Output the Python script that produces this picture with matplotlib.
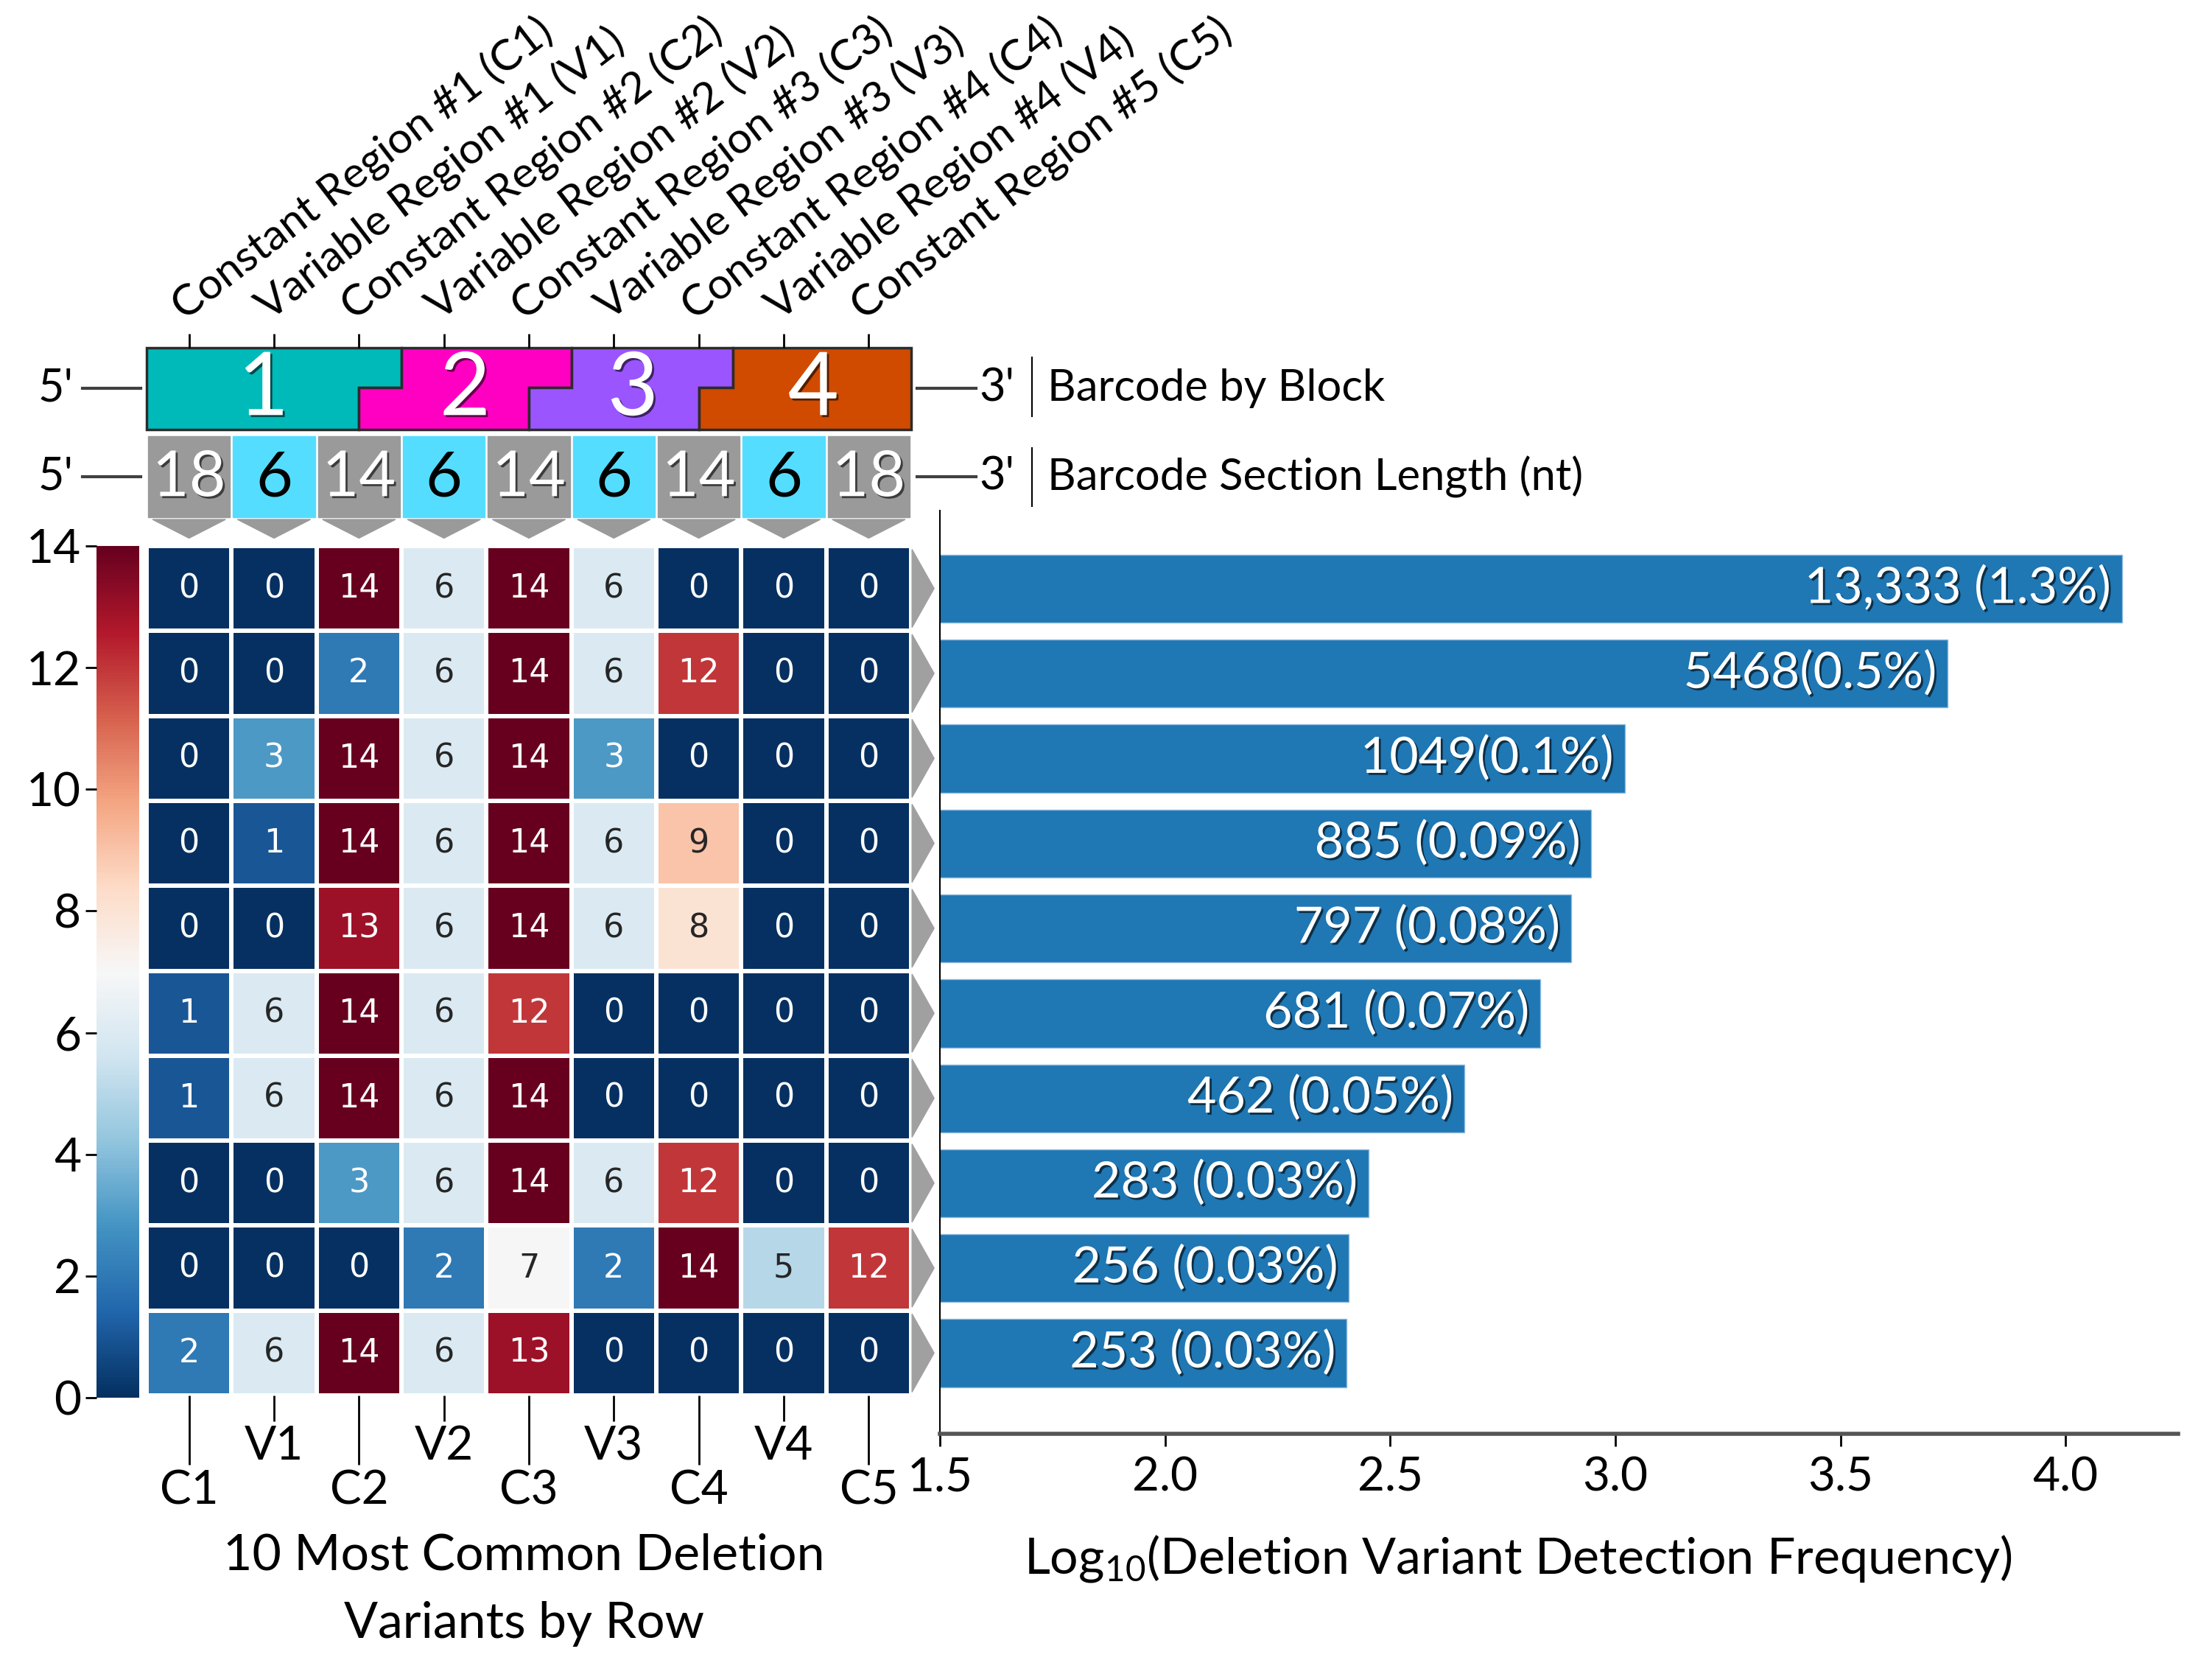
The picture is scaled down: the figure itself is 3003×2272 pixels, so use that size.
import numpy as np
import pandas as pd
import matplotlib
matplotlib.use('Agg')
import matplotlib.pyplot as plt
import matplotlib.patheffects as pe
from matplotlib.patches import Polygon, Rectangle
import seaborn as sns

# data
regions = ['C1', 'V1', 'C2', 'V2', 'C3', 'V3', 'C4', 'V4', 'C5']
region_names = ['Constant Region #1 (C1)', 'Variable Region #1 (V1)', 'Constant Region #2 (C2)',
                'Variable Region #2 (V2)', 'Constant Region #3 (C3)', 'Variable Region #3 (V3)',
                'Constant Region #4 (C4)', 'Variable Region #4 (V4)', 'Constant Region #5 (C5)']
section_len = [18, 6, 14, 6, 14, 6, 14, 6, 18]

# deleted nt per region, one row per deletion variant (most common first)
deletions = [
    [0, 0, 14, 6, 14, 6, 0, 0, 0],
    [0, 0, 2, 6, 14, 6, 12, 0, 0],
    [0, 3, 14, 6, 14, 3, 0, 0, 0],
    [0, 1, 14, 6, 14, 6, 9, 0, 0],
    [0, 0, 13, 6, 14, 6, 8, 0, 0],
    [1, 6, 14, 6, 12, 0, 0, 0, 0],
    [1, 6, 14, 6, 14, 0, 0, 0, 0],
    [0, 0, 3, 6, 14, 6, 12, 0, 0],
    [0, 0, 0, 2, 7, 2, 14, 5, 12],
    [2, 6, 14, 6, 13, 0, 0, 0, 0],
]
counts = [13333, 5468, 1049, 885, 797, 681, 462, 283, 256, 253]
count_labels = ['13,333 (1.3%)', '5468(0.5%)', '1049(0.1%)', '885 (0.09%)', '797 (0.08%)',
                '681 (0.07%)', '462 (0.05%)', '283 (0.03%)', '256 (0.03%)', '253 (0.03%)']

# barcode blocks: edges (in region units) of upper and lower half of each block
blocks = ['1', '2', '3', '4']
block_top_edges = [0, 3, 5, 6.9, 9]
block_bot_edges = [0, 2.5, 4.5, 6.5, 9]
block_colors = ['#00baba', '#ff00c3', '#9b55ff', '#d04a00']

plt.rcParams['font.family'] = ['Lato', 'DejaVu Sans']
plt.rcParams['mathtext.default'] = 'regular'

W, H = 3003, 2272
fig = plt.figure(figsize=(W / 100, H / 100), dpi=100)


def px_axes(x0, y0, x1, y1):
    return fig.add_axes([x0 / W, 1 - y1 / H, (x1 - x0) / W, (y1 - y0) / H])


ax_hm = px_axes(199, 741, 1237, 1894)
ax_cb = px_axes(131, 741, 189, 1897)
ax_bar = px_axes(1276, 693, 2957, 1946)
ax_top = px_axes(199, 472, 1237, 735)

shadow = [pe.withSimplePatchShadow(offset=(2, -2), shadow_rgbFace='black', alpha=0.6)]

# heatmap
df = pd.DataFrame(deletions, columns=regions)
sns.heatmap(df, ax=ax_hm, cbar_ax=ax_cb, cmap='RdBu_r', vmin=0, vmax=14, annot=True, fmt='d',
            annot_kws={'fontsize': 32, 'family': 'DejaVu Sans'}, linewidths=3, linecolor='white')
ax_hm.set_yticks([])
ax_hm.set_xticks(np.arange(0, 9, 2) + 0.5)
ax_hm.set_xticklabels(regions[0::2], rotation=0)
ax_hm.set_xticks(np.arange(1, 9, 2) + 0.5, minor=True)
ax_hm.set_xticklabels(regions[1::2], minor=True, rotation=0)
ax_hm.tick_params(axis='x', which='major', length=68, width=2, labelsize=46, pad=4)
ax_hm.tick_params(axis='x', which='minor', length=25, width=2, labelsize=46, pad=4)
ax_hm.set_xlabel('10 Most Common Deletion\nVariants by Row', fontsize=49, linespacing=1.6)
ax_hm.xaxis.set_label_coords(0.494, -0.162)

# arrows pointing from heatmap rows to bars
for r in range(len(counts)):
    ax_hm.add_patch(Polygon([(9.01, r + 0.04), (9.27, r + 0.5), (9.01, r + 0.96)],
                            closed=True, color='#a0a0a0', clip_on=False))

cb = ax_hm.collections[0].colorbar
cb.outline.set_visible(False)
cb.set_ticks(range(0, 15, 2))
ax_cb.yaxis.set_ticks_position('left')
ax_cb.tick_params(labelsize=46, length=11, width=2, pad=4)

# bar chart of log10 counts
ypos = np.arange(len(counts))
logc = np.log10(counts)
ax_bar.barh(ypos, logc, height=0.8, color='#1f77b4', edgecolor='#8fbbe0', linewidth=1)
for y, v, lab in zip(ypos, logc, count_labels):
    ax_bar.text(v - 0.025, y, lab, ha='right', va='center', color='white', fontsize=49,
                path_effects=shadow)
ax_bar.set_xlim(1.5, 4.25)
ax_bar.set_ylim(9.95, -0.92)
ax_bar.set_yticks([])
ax_bar.set_xticks([1.5, 2.0, 2.5, 3.0, 3.5, 4.0])
ax_bar.tick_params(axis='x', length=12, width=2, labelsize=46, pad=10)
ax_bar.spines['top'].set_visible(False)
ax_bar.spines['right'].set_visible(False)
ax_bar.spines['bottom'].set_linewidth(4)
ax_bar.spines['bottom'].set_color('#555555')
ax_bar.spines['left'].set_linewidth(1.5)
ax_bar.set_xlabel('Log$_{10}$(Deletion Variant Detection Frequency)', fontsize=49)
ax_bar.xaxis.set_label_coords(0.467, -0.108)

# barcode diagram above the heatmap
ax_top.set_xlim(0, 9)
ax_top.set_ylim(0, 263 / 115.3)
ax_top.patch.set_visible(False)
for s in ax_top.spines.values():
    s.set_visible(False)
ax_top.set_yticks([])
ax_top.xaxis.tick_top()
ax_top.set_xticks(np.arange(9) + 0.5)
ax_top.set_xticklabels(region_names, rotation=37.5, ha='left', rotation_mode='anchor')
ax_top.tick_params(axis='x', length=14, width=2, labelsize=42.5, pad=6)

ytop, ystep, ybot = 263 / 115.3, 1.813, 1.318
for i, b in enumerate(blocks):
    tl, tr = block_top_edges[i], block_top_edges[i + 1]
    bl, br = block_bot_edges[i], block_bot_edges[i + 1]
    pts = [(tl, ytop), (tr, ytop), (tr, ystep), (br, ystep), (br, ybot), (bl, ybot), (bl, ystep), (tl, ystep)]
    ax_top.add_patch(Polygon(pts, closed=True, facecolor=block_colors[i], edgecolor='#2b2b2b',
                             linewidth=2.5, clip_on=False))
    cx = ((tl + tr) / 2 + (bl + br) / 2) / 2
    ax_top.text(cx, (ytop + ybot) / 2 - 0.02, b, ha='center', va='center', color='white',
                fontsize=86, path_effects=shadow)

sb, st = 0.286, 1.24
for i, n in enumerate(section_len):
    is_var = regions[i].startswith('V')
    ax_top.add_patch(Rectangle((i + 0.018, sb), 0.964, st - sb,
                               color='#55ddff' if is_var else '#9a9a9a', clip_on=False))
    ax_top.text(i + 0.5, (sb + st) / 2 - 0.02, str(n), ha='center', va='center', fontsize=62,
                color='black' if is_var else 'white', path_effects=None if is_var else shadow)
    ax_top.add_patch(Polygon([(i + 0.07, 0.26), (i + 0.93, 0.26), (i + 0.5, 0.04)], closed=True,
                             color='#9a9a9a', clip_on=False))

for yc, y0, y1, lab in [(1.804, 1.474, 2.168, 'Barcode by Block'),
                        (0.763, 0.416, 1.101, 'Barcode Section Length (nt)')]:
    ax_top.plot([-0.755, -0.07], [yc, yc], color='#404040', lw=3, clip_on=False)
    ax_top.text(-0.86, yc, "5'", ha='right', va='center', fontsize=44)
    ax_top.plot([9.07, 9.76], [yc, yc], color='#404040', lw=3, clip_on=False)
    ax_top.text(9.8, yc, "3'", ha='left', va='center', fontsize=44)
    ax_top.plot([10.42, 10.42], [y0, y1], color='black', lw=1.5, clip_on=False)
    ax_top.text(10.6, yc, lab, ha='left', va='center', fontsize=43)

fig.savefig('out.png', dpi=100)
